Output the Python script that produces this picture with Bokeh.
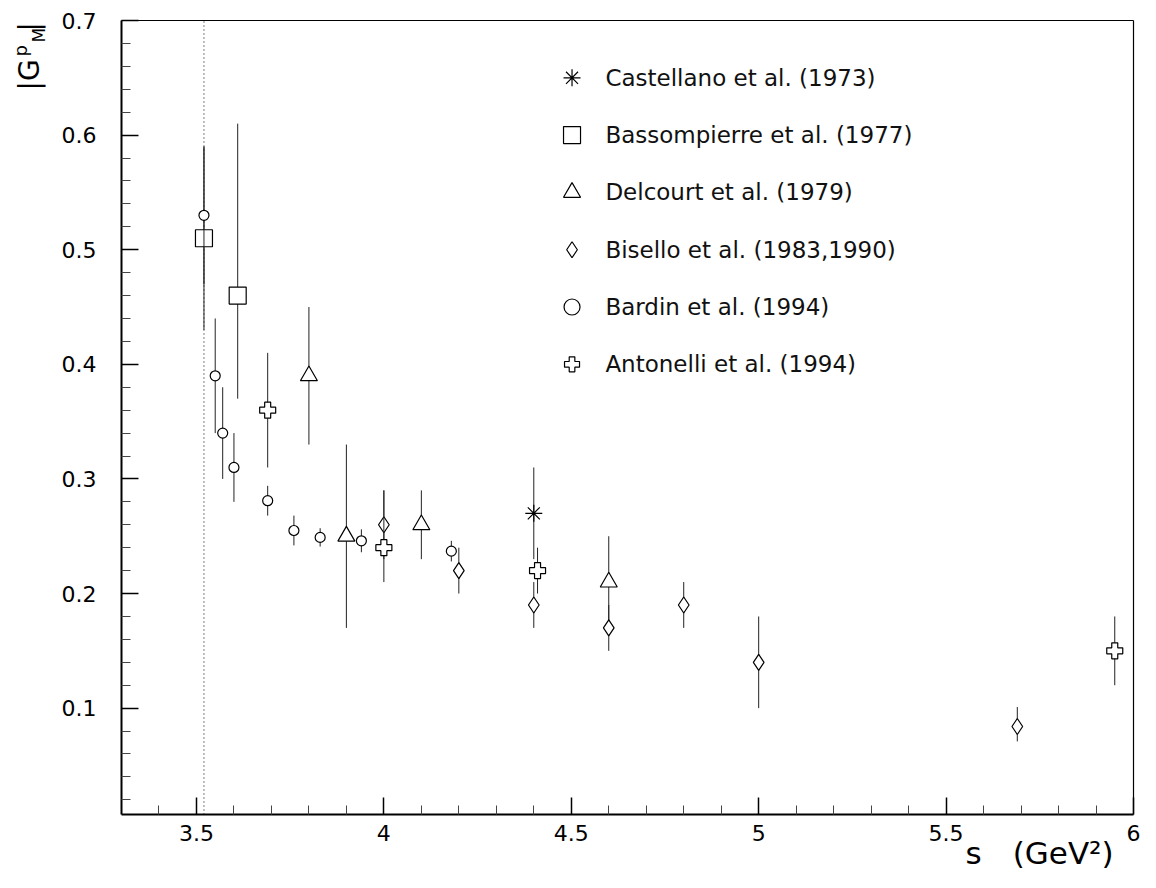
import math
from bokeh.plotting import figure
from bokeh.models import Range1d, FixedTicker, Label, ColumnDataSource, LinearAxis
from bokeh.embed import file_html
from bokeh.resources import INLINE
from bokeh.core.properties import value

FONT = "DejaVu Sans"

# ---------------- data (s in GeV^2, |G_M^p|) ----------------
# Castellano et al. (1973)
cast_s = [4.40]
cast_g = [0.27]
cast_lo = [0.04]
cast_hi = [0.04]

# Bassompierre et al. (1977)
bass_s = [3.52, 3.61]
bass_g = [0.51, 0.46]
bass_lo = [0.08, 0.09]
bass_hi = [0.08, 0.15]

# Delcourt et al. (1979)
delc_s = [3.80, 3.90, 4.10, 4.60]
delc_g = [0.39, 0.25, 0.26, 0.21]
delc_lo = [0.06, 0.08, 0.03, 0.04]
delc_hi = [0.06, 0.08, 0.03, 0.04]

# Bisello et al. (1983,1990)
bise_s = [4.00, 4.20, 4.40, 4.60, 4.80, 5.00, 5.69]
bise_g = [0.26, 0.22, 0.19, 0.17, 0.19, 0.14, 0.084]
bise_lo = [0.03, 0.02, 0.02, 0.02, 0.02, 0.04, 0.013]
bise_hi = [0.03, 0.02, 0.02, 0.02, 0.02, 0.04, 0.017]

# Bardin et al. (1994)
bard_s = [3.52, 3.55, 3.57, 3.60, 3.69, 3.76, 3.83, 3.94, 4.18]
bard_g = [0.53, 0.39, 0.34, 0.31, 0.281, 0.255, 0.249, 0.246, 0.237]
bard_lo = [0.06, 0.05, 0.04, 0.03, 0.013, 0.013, 0.008, 0.010, 0.009]
bard_hi = [0.06, 0.05, 0.04, 0.03, 0.013, 0.013, 0.008, 0.010, 0.009]

# Antonelli et al. (1994)
anto_s = [3.69, 4.00, 4.41, 5.95]
anto_g = [0.36, 0.24, 0.22, 0.15]
anto_lo = [0.05, 0.03, 0.02, 0.03]
anto_hi = [0.05, 0.05, 0.02, 0.03]

threshold_s = 3.52

legend_names = ["Castellano et al. (1973)", "Bassompierre et al. (1977)",
                "Delcourt et al. (1979)", "Bisello et al. (1983,1990)",
                "Bardin et al. (1994)", "Antonelli et al. (1994)"]
legend_markers = ["asterisk", "square", "triangle", "diamond", "circle", "plus"]

x_lim = (3.3, 6.0)
y_lim = (0.0072, 0.7)
x_ticks = [3.5, 4, 4.5, 5, 5.5, 6]
x_tick_labels = ["3.5", "4", "4.5", "5", "5.5", "6"]
x_minor = [3.4, 3.6, 3.7, 3.8, 3.9, 4.1, 4.2, 4.3, 4.4, 4.6, 4.7, 4.8, 4.9,
           5.1, 5.2, 5.3, 5.4, 5.6, 5.7, 5.8, 5.9]
y_ticks = [0.1, 0.2, 0.3, 0.4, 0.5, 0.6, 0.7]
y_tick_labels = ["0.1", "0.2", "0.3", "0.4", "0.5", "0.6", "0.7"]
y_minor = [0.02, 0.04, 0.06, 0.08, 0.12, 0.14, 0.16, 0.18, 0.22, 0.24, 0.26, 0.28,
           0.32, 0.34, 0.36, 0.38, 0.42, 0.44, 0.46, 0.48, 0.52, 0.54, 0.56, 0.58,
           0.62, 0.64, 0.66, 0.68]

# ---------------- figure ----------------
# The data frame covers the whole canvas; the visible axes box is drawn with
# fixed-location axes so that the axis titles (outside the box) are not clipped.
W, H = 1140, 872
BOX_L, BOX_R, BOX_T, BOX_B = 121, 1133, 20, 814   # pixel edges of the axes box
kx = (BOX_R - BOX_L) / (x_lim[1] - x_lim[0])
ky = (BOX_B - BOX_T) / (y_lim[1] - y_lim[0])
x_range = Range1d(x_lim[0] - BOX_L / kx, x_lim[1] + (W - BOX_R) / kx)
y_range = Range1d(y_lim[0] - (H - BOX_B) / ky, y_lim[1] + BOX_T / ky)

p = figure(width=W, height=H, output_backend="svg", toolbar_location=None,
           x_range=x_range, y_range=y_range, x_axis_type=None, y_axis_type=None,
           min_border=0)
p.grid.visible = False
p.background_fill_color = "white"
p.border_fill_color = "white"
p.outline_line_color = None


def sx(px):
    return x_range.start + px / kx


def sy(py):
    return y_range.end - py / ky


xaxis = LinearAxis(fixed_location=y_lim[0], bounds=x_lim)
yaxis = LinearAxis(fixed_location=x_lim[0], bounds=y_lim)
p.add_layout(xaxis, "below")
p.add_layout(yaxis, "left")

for ax, ticks, minor, labels in ((xaxis, x_ticks, x_minor, x_tick_labels),
                                 (yaxis, y_ticks, y_minor, y_tick_labels)):
    ax.ticker = FixedTicker(ticks=ticks, minor_ticks=minor)
    ax.major_label_overrides = dict(zip(ticks, labels))
    ax.major_tick_in = 17
    ax.major_tick_out = 0
    ax.minor_tick_in = 9
    ax.minor_tick_out = 0
    ax.major_tick_line_color = "black"
    ax.minor_tick_line_color = "#444444"
    ax.major_tick_line_width = 1.5
    ax.minor_tick_line_width = 1
    ax.axis_line_width = 2
    ax.axis_line_color = "black"
    ax.major_label_text_font = FONT
    ax.major_label_text_font_size = "22px"
    ax.major_label_text_color = "black"

xaxis.major_label_standoff = 10
yaxis.major_label_standoff = 25

# top and right edges of the box
for loc, bnds, side in ((y_lim[1], x_lim, "above"), (x_lim[1], y_lim, "right")):
    edge = LinearAxis(fixed_location=loc, bounds=bnds, ticker=FixedTicker(ticks=[]),
                      major_tick_line_color=None, minor_tick_line_color=None,
                      major_label_text_font_size="0px", axis_line_width=1.2,
                      axis_line_color="black")
    p.add_layout(edge, side)

# threshold line (dotted)
p.segment(x0=[threshold_s], y0=[y_lim[0]], x1=[threshold_s], y1=[y_lim[1]],
          line_color="black", line_width=1, line_dash="1 3")

ERR_COLOR = "#222222"


def series(xs, ys, lo, hi, marker, size):
    p.segment(x0=xs, y0=[y - l for y, l in zip(ys, lo)],
              x1=xs, y1=[y + h for y, h in zip(ys, hi)],
              line_color=ERR_COLOR, line_width=1)
    p.scatter(x=xs, y=ys, marker=marker, size=size, fill_color="white",
              line_color="black", line_width=1.2)


series(cast_s, cast_g, cast_lo, cast_hi, "asterisk", 17)
series(bass_s, bass_g, bass_lo, bass_hi, "square", 17)
series(delc_s, delc_g, delc_lo, delc_hi, "triangle", 17)
series(bise_s, bise_g, bise_lo, bise_hi, "diamond", 16)
series(bard_s, bard_g, bard_lo, bard_hi, "circle", 10)
series(anto_s, anto_g, anto_lo, anto_hi, "plus", 16)

# ---------------- legend (manual) ----------------
leg_y = [0.65, 0.60, 0.55, 0.50, 0.45, 0.40]
leg_src = ColumnDataSource(dict(x=[4.502] * 6, tx=[4.591] * 6, y=leg_y,
                                m=legend_markers, s=[17, 17, 17, 16, 16, 15],
                                t=legend_names))
p.scatter(x="x", y="y", marker="m", size="s", source=leg_src, fill_color="white",
          line_color="black", line_width=1.2)
p.text(x="tx", y="y", text="t", source=leg_src, text_font=value(FONT),
       text_font_size="23px", text_baseline="middle", text_align="left",
       text_color="#111111")

# ---------------- axis titles ----------------
title_y = sy(852)
p.add_layout(Label(x=5.552, y=title_y, text="s", text_font=FONT,
                   text_font_size="31px", text_align="left",
                   text_baseline="middle", text_color="black"))
p.add_layout(Label(x=5.947, y=title_y, text="(GeV²)", text_font=FONT,
                   text_font_size="31px", text_align="right",
                   text_baseline="middle", text_color="black"))

rot = math.pi / 2
for txt, px, py, fs in (("|G", 29, 90, "28px"), ("p", 20, 56, "18px"),
                        ("M", 38, 42, "17px"), ("|", 29, 31, "28px")):
    p.add_layout(Label(x=sx(px), y=sy(py), text=txt, angle=rot, text_font=FONT,
                       text_font_size=fs, text_align="left",
                       text_baseline="middle", text_color="black"))

open("out.html", "w").write(file_html(p, INLINE))
